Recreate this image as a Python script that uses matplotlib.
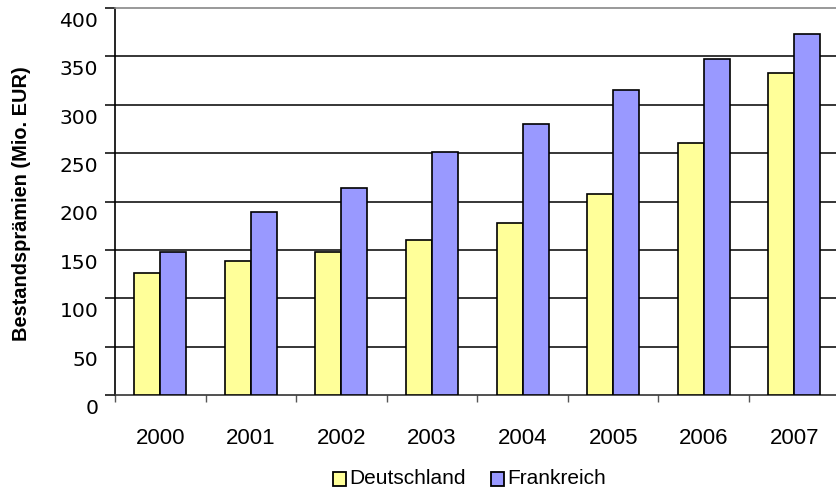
import matplotlib
matplotlib.use("Agg")
import matplotlib.pyplot as plt
import matplotlib.transforms as mtransforms
import numpy as np
from matplotlib.patches import Rectangle

years = ["2000", "2001", "2002", "2003", "2004", "2005", "2006", "2007"]
deutschland = [126, 139, 148, 160, 178, 208, 260, 333]
frankreich = [148, 189, 214, 251, 280, 315, 347, 373]
series_names = ["Deutschland", "Frankreich"]
y_ticks = [0, 50, 100, 150, 200, 250, 300, 350, 400]

W, H = 837, 495
fig = plt.figure(figsize=(W / 100, H / 100), dpi=100)
ax = fig.add_axes([115 / W, 100 / H, 724.6 / W, 387 / H])

x = np.arange(len(years))
bw = 0.287
c_de = "#FFFF99"
c_fr = "#9999FF"
ax.bar(x - bw / 2, deutschland, bw, color=c_de, edgecolor="black", linewidth=1.2, zorder=3)
ax.bar(x + bw / 2, frankreich, bw, color=c_fr, edgecolor="black", linewidth=1.2, zorder=3)

ax.set_xlim(-0.5, len(years) - 0.5)
ax.set_ylim(0, 400)
ax.set_yticks(y_ticks)
ax.set_yticklabels([])
for t in y_ticks[1:-1]:
    ax.axhline(t, color="black", linewidth=1.1, zorder=1)

# y labels sit slightly below their gridlines
shift = mtransforms.ScaledTranslation(0, -13.5 / 100, fig.dpi_scale_trans)
ylab_tf = ax.get_yaxis_transform() + shift
for t in y_ticks:
    ax.text(-16.7 / 724.6, t, str(t), transform=ylab_tf, ha="right", va="center",
            fontsize=14.6, family="DejaVu Sans", clip_on=False)

# category boundary ticks below the axis
ax.set_xticks(np.arange(len(years) + 1) - 0.5)
ax.set_xticklabels([])
ax.tick_params(axis="x", direction="out", length=5, width=1, color="#555555")
ax.tick_params(axis="y", direction="out", length=7, width=1.1, color="black")
for i, yr in enumerate(years):
    ax.text(i, -44.5, yr, ha="center", va="center", fontsize=16,
            family="Liberation Sans")

ax.spines["left"].set_color("black")
ax.spines["left"].set_linewidth(1.2)
ax.spines["bottom"].set_color("#333333")
ax.spines["bottom"].set_linewidth(1.2)
ax.spines["top"].set_color("#888888")
ax.spines["top"].set_linewidth(1.2)
ax.spines["right"].set_visible(False)

fig.text(22 / W, 1 - 204 / H, "Bestandsprämien (Mio. EUR)", rotation=90,
         ha="center", va="center", fontsize=14.4, fontweight="bold",
         family="Liberation Sans")

# legend
def legend_item(x0, color, label):
    fig.patches.append(Rectangle((x0 / W, 1 - 486 / H), 13 / W, 14 / H,
                                 facecolor=color, edgecolor="black", linewidth=1.3,
                                 transform=fig.transFigure, figure=fig))
    fig.text((x0 + 16) / W, 1 - 479 / H, label, ha="left", va="center", fontsize=15,
             family="Liberation Sans")

legend_item(333, c_de, series_names[0])
legend_item(491, c_fr, series_names[1])

fig.savefig("out.png", dpi=100)
